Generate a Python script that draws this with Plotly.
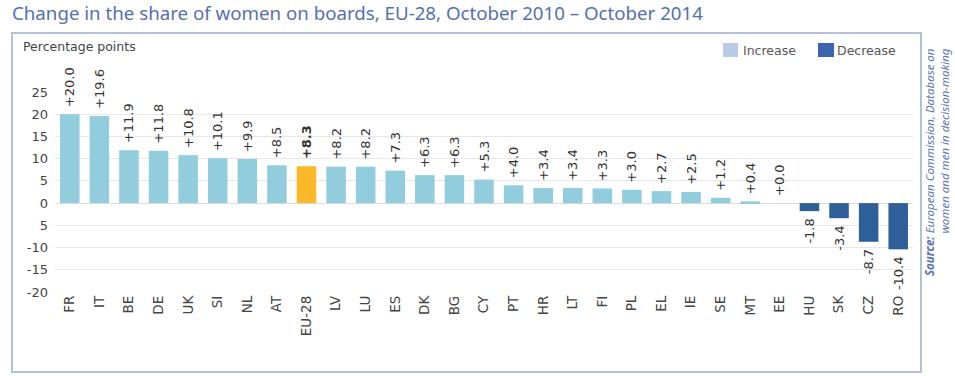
import plotly.graph_objects as go

countries = ["FR", "IT", "BE", "DE", "UK", "SI", "NL", "AT", "EU-28", "LV", "LU", "ES", "DK", "BG",
             "CY", "PT", "HR", "LT", "FI", "PL", "EL", "IE", "SE", "MT", "EE", "HU", "SK", "CZ", "RO"]
change = [20.0, 19.6, 11.9, 11.8, 10.8, 10.1, 9.9, 8.5, 8.3, 8.2, 8.2, 7.3, 6.3, 6.3,
          5.3, 4.0, 3.4, 3.4, 3.3, 3.0, 2.7, 2.5, 1.2, 0.4, 0.0, -1.8, -3.4, -8.7, -10.4]
ytick_vals = [25, 20, 15, 10, 5, 0, -5, -10, -15, -20]
ytick_text = ["25", "20", "15", "10", "5", "0", "5", "-10", "-15", "-20"]

INC = "#92cddd"
DEC = "#2f5f98"
AVG = "#fbb829"
NB = "\u00a0"

colors = []
labels = []
for c, v in zip(countries, change):
    s = f"{v:+.1f}"
    if c == "EU-28":
        s = f"<b>{s}</b>"
        colors.append(AVG)
    else:
        colors.append(INC if v >= 0 else DEC)
    labels.append(NB + s if v >= 0 else s + NB)

W, H = 955, 376
L, R, T, B = 55, 42, 92, 84
pw, ph = W - L - R, H - T - B


def px(x):
    return (x - L) / pw


def py(y):
    return (H - B - y) / ph


fig = go.Figure()
fig.add_trace(go.Bar(
    x=countries, y=change, marker=dict(color=colors, line=dict(width=0)),
    text=labels, textposition="outside", textangle=-90, constraintext="none",
    cliponaxis=False, textfont=dict(family="DejaVu Sans", size=13, color="#333333"),
    hoverinfo="x+y", showlegend=False,
))

shapes = [
    dict(type="rect", xref="paper", yref="paper", x0=px(12), x1=px(921), y0=py(372), y1=py(33),
         line=dict(color="#b3bfd6", width=2), fillcolor="rgba(0,0,0,0)", layer="below"),
    dict(type="rect", xref="paper", yref="paper", x0=px(723), x1=px(738), y0=py(57), y1=py(43),
         line=dict(width=0), fillcolor="#b9c9e8"),
    dict(type="rect", xref="paper", yref="paper", x0=px(818), x1=px(834), y0=py(57), y1=py(43),
         line=dict(width=0), fillcolor="#3c64ae"),
]

annotations = [
    dict(text="Change in the share of women on boards, EU-28, October 2010 \u2013 October 2014",
         xref="paper", yref="paper", x=px(10), y=py(12), xanchor="left", yanchor="middle",
         showarrow=False, font=dict(family="Noto Sans", size=18.7, color="#5470b0")),
    dict(text="Percentage points", xref="paper", yref="paper", x=px(21), y=py(46),
         xanchor="left", yanchor="middle", showarrow=False,
         font=dict(family="DejaVu Sans", size=12.5, color="#444444")),
    dict(text="Increase", xref="paper", yref="paper", x=px(741), y=py(50),
         xanchor="left", yanchor="middle", showarrow=False,
         font=dict(family="DejaVu Sans", size=12.5, color="#555555")),
    dict(text="Decrease", xref="paper", yref="paper", x=px(835), y=py(50),
         xanchor="left", yanchor="middle", showarrow=False,
         font=dict(family="DejaVu Sans", size=12.5, color="#555555")),
    dict(text="<i><b>Source:</b> European Commission, Database on<br>women and men in decision-making</i>",
         xref="paper", yref="paper", x=px(937), y=py(162), xanchor="center", yanchor="middle",
         textangle=-90, showarrow=False, align="right",
         font=dict(family="Noto Sans", size=11.5, color="#5a73b0")),
]

fig.update_layout(
    width=W, height=H,
    margin=dict(l=L, r=R, t=T, b=B, autoexpand=False),
    paper_bgcolor="white", plot_bgcolor="white",
    bargap=0.34,
    xaxis=dict(type="category", tickangle=-90, showgrid=False, showline=False, ticks="",
               tickfont=dict(family="DejaVu Sans", size=13.5, color="#444444")),
    yaxis=dict(range=[-20, 25], tickvals=ytick_vals, ticktext=ytick_text,
               showgrid=True, gridcolor="#e6e6e6", gridwidth=1,
               zeroline=True, zerolinecolor="#dcdcdc", zerolinewidth=1,
               showline=False, ticks="", ticklabelstandoff=6,
               tickfont=dict(family="DejaVu Sans", size=13, color="#444444")),
    shapes=shapes, annotations=annotations,
)

fig.write_html(
    "out.html",
    config={"displayModeBar": False},
    post_script="document.body.style.margin='0';document.body.style.overflow='hidden';",
)
